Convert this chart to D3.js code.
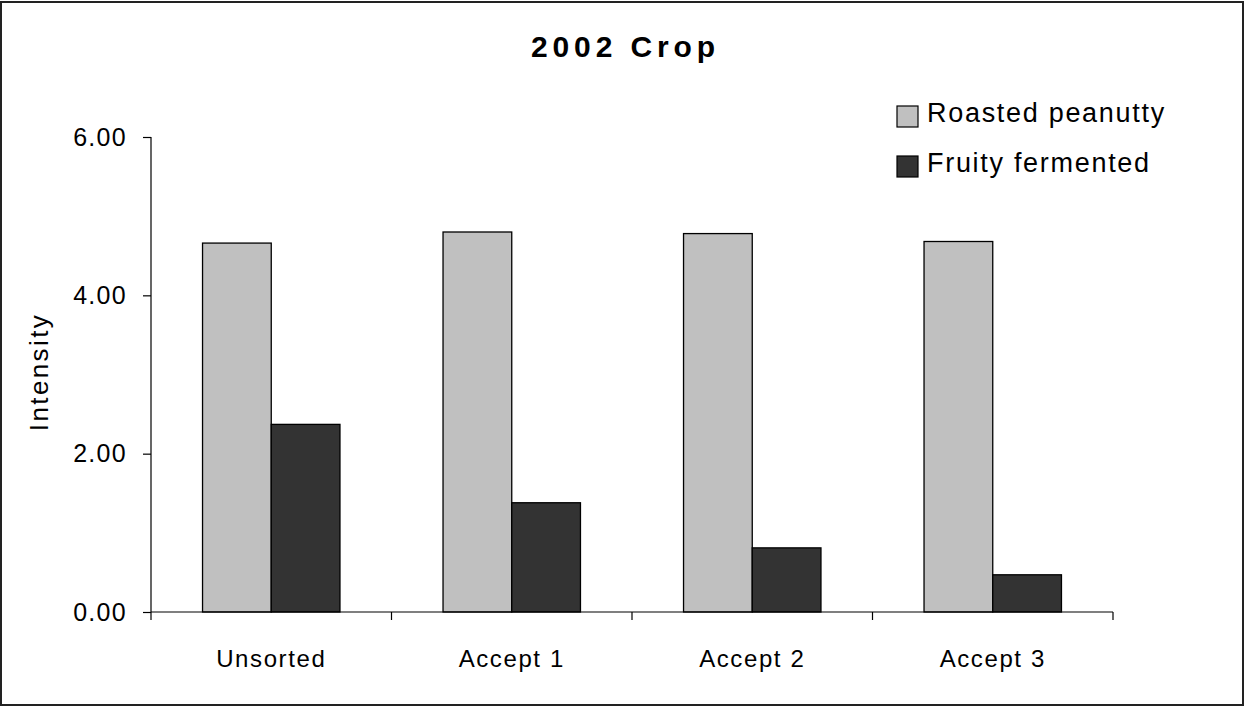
<!DOCTYPE html>
<html>
<head>
<meta charset="utf-8">
<script src="https://cdn.jsdelivr.net/npm/d3@7"></script>
<style>
  html, body { margin: 0; padding: 0; background: #fff; }
  svg { display: block; font-family: "Liberation Sans", Arial, sans-serif; }
</style>
</head>
<body>
<svg id="chart" width="1247" height="706"></svg>
<script>
const categories = ["Unsorted", "Accept 1", "Accept 2", "Accept 3"];
const seriesNames = ["Roasted peanutty", "Fruity fermented"];
const roasted = [4.66, 4.80, 4.78, 4.68];
const fruity = [2.37, 1.38, 0.81, 0.47];
const yTicks = [0, 2, 4, 6];
const seriesColors = ["#c0c0c0", "#333333"];
const title = "2002 Crop";
const yTitle = "Intensity";

const svg = d3.select("#chart");

// outer frame
svg.append("rect")
  .attr("x", 1).attr("y", 2).attr("width", 1242).attr("height", 703)
  .attr("fill", "#fff").attr("stroke", "#222").attr("stroke-width", 2);

const x0 = d3.scaleBand().domain(categories).range([151, 1113]).paddingInner(0).paddingOuter(0);
const bw = x0.bandwidth() / 3.5;
const x1 = d3.scaleBand().domain(seriesNames)
  .range([(x0.bandwidth() - 2 * bw) / 2, (x0.bandwidth() + 2 * bw) / 2]).padding(0);
const y = d3.scaleLinear().domain([0, 6]).range([612, 137]);

const seriesData = [roasted, fruity];

// bars
const groups = svg.append("g").selectAll("g")
  .data(categories)
  .join("g")
  .attr("transform", d => `translate(${x0(d)},0)`);

groups.selectAll("rect")
  .data((c, i) => seriesNames.map((s, j) => ({ s, j, v: seriesData[j][i] })))
  .join("rect")
  .attr("x", d => x1(d.s))
  .attr("y", d => y(d.v))
  .attr("width", x1.bandwidth())
  .attr("height", d => y(0) - y(d.v))
  .attr("fill", d => seriesColors[d.j])
  .attr("stroke", "#000")
  .attr("stroke-width", 1.3);

// y axis
const yAxis = svg.append("g")
  .attr("transform", "translate(151,0)")
  .call(d3.axisLeft(y).tickValues(yTicks).tickFormat(d3.format(".2f")).tickSize(8).tickPadding(16));
yAxis.select(".domain").attr("stroke", "#000").attr("stroke-width", 1.2).attr("d", "M0,137V612");
yAxis.selectAll(".tick line").attr("stroke", "#000").attr("stroke-width", 1.2);
yAxis.selectAll(".tick text")
  .attr("fill", "#000")
  .style("font-size", "25px")
  .style("letter-spacing", "1.3px")
  .attr("font-family", null);

// x axis
const xAxis = svg.append("g")
  .attr("transform", "translate(0,612)")
  .call(d3.axisBottom(x0).tickSize(0).tickPadding(38));
xAxis.select(".domain").attr("stroke", "#000").attr("stroke-width", 1.2).attr("d", "M151,0H1113");
xAxis.selectAll(".tick text")
  .attr("fill", "#000")
  .style("font-size", "24px")
  .style("letter-spacing", "1.6px")
  .attr("font-family", null)
  .attr("dy", "0.71em");
// category separator ticks
const sepTicks = categories.map(c => x0(c)).concat([x0(categories[categories.length - 1]) + x0.bandwidth()]);
svg.append("g").selectAll("line")
  .data(sepTicks)
  .join("line")
  .attr("x1", d => d).attr("x2", d => d)
  .attr("y1", 612).attr("y2", 620)
  .attr("stroke", "#000").attr("stroke-width", 1.2);

// title
svg.append("text")
  .attr("x", 625.5).attr("y", 57)
  .attr("text-anchor", "middle")
  .style("font-size", "30px").style("font-weight", "bold")
  .style("letter-spacing", "4.9px")
  .text(title);

// y title
svg.append("text")
  .attr("transform", "translate(48,372) rotate(-90)")
  .attr("text-anchor", "middle")
  .style("font-size", "26px")
  .style("letter-spacing", "2.4px")
  .text(yTitle);

// legend
const legend = svg.append("g").selectAll("g")
  .data(seriesNames)
  .join("g")
  .attr("transform", (d, i) => `translate(897,${122 + i * 50})`);
legend.append("rect")
  .attr("x", 0).attr("y", -16).attr("width", 21).attr("height", 21)
  .attr("fill", (d, i) => seriesColors[i])
  .attr("stroke", "#000").attr("stroke-width", 1.2);
legend.append("text")
  .attr("x", 30).attr("y", 0)
  .style("font-size", "27px")
  .style("letter-spacing", "1.7px")
  .text(d => d);
</script>
</body>
</html>
